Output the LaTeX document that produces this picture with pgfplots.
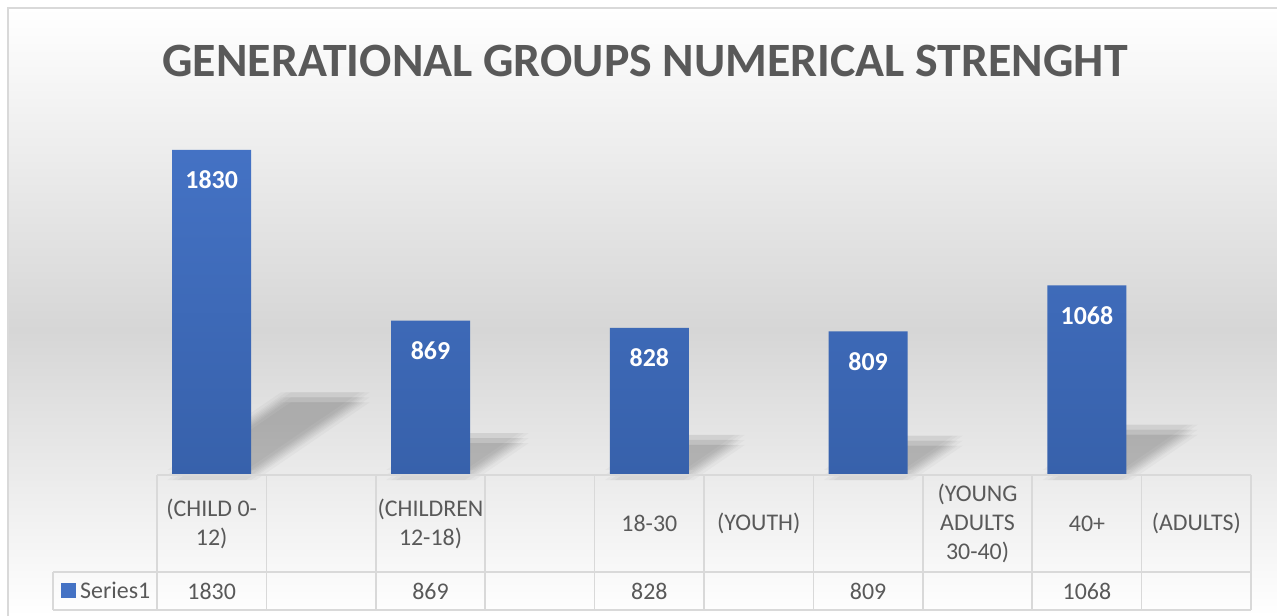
\documentclass[border=0pt]{standalone}
\usepackage{fontspec}
\setmainfont{Carlito}
\usepackage{pgfplots}
\pgfplotsset{compat=1.18}
\definecolor{bartop}{HTML}{4472C4}
\definecolor{barbot}{HTML}{3761AB}
\definecolor{txtgray}{HTML}{595959}
\definecolor{gridgray}{HTML}{D9D9D9}
\definecolor{bgmid}{HTML}{D6D6D6}
% soft shadows: each shadow drawn several times with small offsets
\newcommand{\shadowset}[2]{%
\addplot[shadow, xshift=#1bp, yshift=#2bp] coordinates {(-0.36,0) (0.36,0) (1.398,437) (0.678,437)} -- cycle;
\addplot[shadow, xshift=#1bp, yshift=#2bp] coordinates {(1.64,0) (2.36,0) (2.853,208) (2.133,208)} -- cycle;
\addplot[shadow, xshift=#1bp, yshift=#2bp] coordinates {(3.64,0) (4.36,0) (4.829,198) (4.109,198)} -- cycle;
\addplot[shadow, xshift=#1bp, yshift=#2bp] coordinates {(5.64,0) (6.36,0) (6.819,193) (6.099,193)} -- cycle;
\addplot[shadow, xshift=#1bp, yshift=#2bp] coordinates {(7.64,0) (8.36,0) (8.966,255) (8.246,255)} -- cycle;
}
\begin{document}
\begin{tikzpicture}
\begin{scope}[x=1bp,y=1bp]
\shade[top color=white, bottom color=bgmid] (8,286) rectangle (1277,608);
\shade[top color=bgmid, bottom color=white] (8,0) rectangle (1277,286);
\draw[gridgray, line width=1.5bp] (8,0) -- (8,608) -- (1277,608);
\node[font=\fontsize{48}{58}\selectfont\bfseries, text=txtgray] at (645,555) {GENERATIONAL GROUPS NUMERICAL STRENGHT};
\end{scope}
\begin{axis}[
  at={(157bp,141bp)}, anchor=south west,
  scale only axis, width=1094bp, height=355.2bp,
  xmin=-0.5, xmax=9.5, ymin=0, ymax=2000,
  axis line style={draw=none},
  major tick length=0pt,
  ytick=\empty,
  xtick={0,...,9},
  xticklabels={{(CHILD 0-\\12)}, {}, {(CHILDREN\\12-18)}, {}, {18-30}, {(YOUTH)}, {}, {(YOUNG\\ADULTS\\30-40)}, {40+}, {(ADULTS)}},
  xticklabel style={anchor=center, yshift=-48.5bp, align=center, inner sep=0pt, text=txtgray, font=\fontsize{24}{29}\selectfont},
  extra x ticks={0,2,4,6,8},
  extra x tick labels={1830,869,828,809,1068},
  extra x tick style={xticklabel style={yshift=-67.5bp}},
  /pgf/number format/1000 sep={},
  /pgf/number format/assume math mode=true,
  clip=false,
  shadow/.style={fill=black, fill opacity=0.026, draw=none},
]
\shadowset{-5}{-5}\shadowset{0}{-5}\shadowset{5}{-5}
\shadowset{-5}{0}\shadowset{0}{0}\shadowset{5}{0}
\shadowset{-5}{5}\shadowset{0}{5}\shadowset{5}{5}
\addplot[ybar, bar width=79bp, draw=none, top color=bartop, bottom color=barbot,
  nodes near coords,
  every node near coord/.append style={anchor=center, yshift=-30bp, text=white, font=\fontsize{26}{31}\selectfont\bfseries}]
  coordinates {(0,1830) (2,869) (4,828) (6,809) (8,1068)};
\end{axis}
\begin{scope}[x=1bp,y=1bp]
% table grid
\begin{scope}[gridgray, line width=1.5bp]
\draw (157,141) -- (1251,141);
\draw (53,44) -- (1251,44);
\draw (53,6) -- (1251,6);
\draw (53,44) -- (53,6);
\foreach \k in {0,...,10} { \draw ({157+109.4*\k},141) -- ({157+109.4*\k},6); }
\end{scope}
\fill[bartop] (61,18) rectangle (76,33);
\node[anchor=west, inner sep=0pt, font=\fontsize{24}{29}\selectfont, text=txtgray] at (80,25.5) {Series1};
\end{scope}
\pgfresetboundingbox
\useasboundingbox (0,0) rectangle (1277bp,616bp);
\end{tikzpicture}
\end{document}
